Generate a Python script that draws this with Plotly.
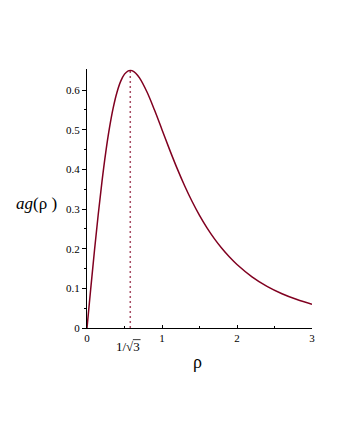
import plotly.graph_objects as go

# values
rho = [0, 0.05, 0.1, 0.15, 0.2, 0.25, 0.3, 0.35, 0.4, 0.45, 0.5, 0.55, 0.577, 0.6,
       0.65, 0.7, 0.8, 0.9, 1.0, 1.1, 1.2, 1.3, 1.4, 1.5, 1.6, 1.7, 1.8, 1.9, 2.0,
       2.2, 2.4, 2.6, 2.8, 3.0]
ag = [0, 0.0995, 0.1961, 0.2869, 0.3698, 0.4429, 0.5050, 0.5556, 0.5945, 0.6224,
      0.6400, 0.6484, 0.6495, 0.6488, 0.6424, 0.6306, 0.5949, 0.5494, 0.5000,
      0.4504, 0.4031, 0.3593, 0.3196, 0.2840, 0.2525, 0.2247, 0.2002, 0.1788,
      0.1600, 0.1290, 0.1050, 0.0864, 0.0717, 0.0600]

peak_rho = [0.577, 0.577]
peak_ag = [0, 0.6495]

x_ticks = [0, 1, 2, 3]
y_ticks = [0, 0.1, 0.2, 0.3, 0.4, 0.5, 0.6]

curve_color = "#800020"
serif = "Liberation Serif"

fig = go.Figure()
fig.add_trace(go.Scatter(x=peak_rho, y=peak_ag, mode="lines",
                         line=dict(color=curve_color, width=1.5, dash="2px,3px"),
                         opacity=0.7, hoverinfo="skip"))
fig.add_trace(go.Scatter(x=rho, y=ag, mode="lines",
                         line=dict(color=curve_color, width=1.5, shape="spline")))

# page body has an 8px margin, so the plot box is shifted back by that
fig.update_layout(
    width=340, height=440,
    margin=dict(l=79, r=36, t=61, b=120),
    paper_bgcolor="white", plot_bgcolor="white",
    showlegend=False,
    font=dict(family=serif, size=11, color="black"),
    xaxis=dict(
        range=[0, 3], tickvals=x_ticks, ticktext=[str(v) for v in x_ticks],
        ticks="inside", ticklen=3, tickcolor="black",
        minor=dict(tickvals=[0.5, 1.5, 2.5], ticks="inside", ticklen=2, tickcolor="black"),
        showline=True, linecolor="black", linewidth=1,
        showgrid=False, zeroline=False,
    ),
    yaxis=dict(
        range=[0, 0.653], tickvals=y_ticks, ticktext=[str(v) if v else "0" for v in y_ticks],
        ticks="outside", ticklen=4, tickcolor="black",
        minor=dict(tickvals=[0.05, 0.15, 0.25, 0.35, 0.45, 0.55], ticks="outside",
                   ticklen=2, tickcolor="black"),
        showline=True, linecolor="black", linewidth=1,
        showgrid=False, zeroline=False,
    ),
    annotations=[
        dict(text="<i>ag</i>(ρ )", xref="paper", yref="paper", x=-0.225, y=0.479,
             xanchor="center", yanchor="middle",
             showarrow=False, font=dict(family=serif, size=17)),
        dict(text="ρ", xref="paper", yref="paper", x=0.49, y=-0.13,
             xanchor="center", yanchor="middle",
             showarrow=False, font=dict(family=serif, size=18)),
        dict(text="1/√3", xref="paper", yref="paper", x=0.184, y=-0.072,
             xanchor="center", yanchor="middle",
             showarrow=False, font=dict(family=serif, size=13)),
    ],
    # overline of the square-root sign
    shapes=[dict(type="line", xref="paper", yref="paper", x0=0.204, x1=0.238,
                 y0=-0.045, y1=-0.045, line=dict(color="black", width=0.8))],
)

fig.write_html("out.html")
